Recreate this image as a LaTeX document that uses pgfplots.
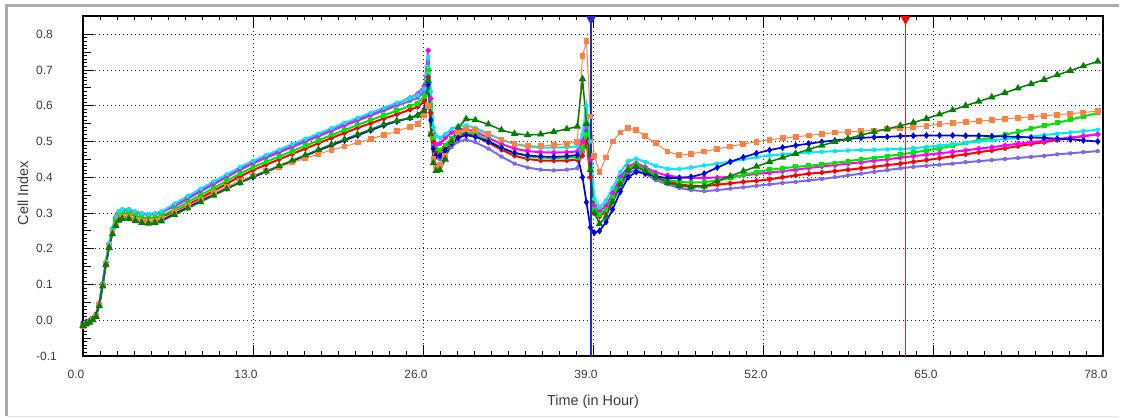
\documentclass[border=0pt]{standalone}
\usepackage{fontspec}
\setmainfont{Liberation Sans}
\usepackage{pgfplots}
\usepackage{pgfplotstable}
\pgfplotsset{compat=1.18}

\definecolor{cired}{RGB}{255,0,0}
\definecolor{cilime}{RGB}{0,228,0}
\definecolor{ciblue}{RGB}{0,0,225}
\definecolor{cimag}{RGB}{255,0,255}
\definecolor{cicyan}{RGB}{0,235,240}
\definecolor{ciorng}{RGB}{255,128,64}
\definecolor{cidgrn}{RGB}{0,128,0}
\definecolor{cipurp}{RGB}{123,104,238}
\definecolor{markblue}{RGB}{40,40,200}
\definecolor{markred}{RGB}{215,40,40}
\definecolor{labelgray}{RGB}{60,60,60}

% Cell index of eight wells, sampled over the run (hours)
\pgfplotstableread{
t     red    lime   blue   mag    cyan   orng   dgrn   purp
0     -0.010 -0.010 -0.008 -0.010 -0.010 -0.015 -0.015 -0.010
0.25  -0.006 -0.006 -0.005 -0.006 -0.006 -0.010 -0.010 -0.006
0.5   -0.002 -0.002 -0.002 -0.002 -0.002 -0.005 -0.006 -0.002
0.75  0.004  0.004  0.004  0.004  0.005  0.002  0.000  0.004
1.0   0.015  0.015  0.015  0.016  0.016  0.012  0.010  0.016
1.25  0.045  0.045  0.045  0.047  0.047  0.042  0.040  0.047
1.5   0.100  0.100  0.098  0.102  0.103  0.097  0.095  0.102
1.75  0.160  0.160  0.157  0.163  0.164  0.157  0.155  0.163
2.0   0.210  0.210  0.205  0.214  0.215  0.206  0.203  0.214
2.25  0.250  0.250  0.244  0.256  0.257  0.245  0.241  0.256
2.5   0.278  0.278  0.268  0.288  0.290  0.268  0.264  0.290
2.75  0.293  0.293  0.283  0.303  0.305  0.283  0.279  0.305
3.0   0.298  0.298  0.288  0.308  0.310  0.288  0.284  0.310
3.5   0.298  0.298  0.288  0.308  0.310  0.288  0.284  0.310
4.0   0.292  0.292  0.282  0.302  0.304  0.282  0.278  0.304
4.5   0.287  0.287  0.277  0.297  0.299  0.277  0.273  0.299
5.0   0.285  0.285  0.275  0.295  0.297  0.275  0.271  0.297
5.5   0.287  0.287  0.277  0.297  0.299  0.278  0.273  0.299
6.0   0.291  0.292  0.281  0.301  0.304  0.283  0.277  0.303
7     0.302  0.310  0.298  0.322  0.326  0.302  0.295  0.318
8     0.322  0.330  0.316  0.343  0.347  0.320  0.313  0.339
9     0.342  0.350  0.334  0.364  0.368  0.338  0.331  0.360
10    0.362  0.370  0.352  0.384  0.388  0.355  0.349  0.380
11    0.382  0.390  0.369  0.404  0.408  0.373  0.367  0.400
12    0.402  0.410  0.385  0.424  0.428  0.390  0.385  0.420
13    0.420  0.428  0.400  0.442  0.446  0.405  0.402  0.438
14    0.435  0.443  0.415  0.458  0.462  0.417  0.417  0.454
15    0.450  0.458  0.430  0.473  0.477  0.429  0.432  0.469
16    0.465  0.473  0.445  0.488  0.492  0.441  0.447  0.484
17    0.480  0.488  0.460  0.503  0.507  0.453  0.462  0.499
18    0.495  0.503  0.475  0.518  0.522  0.465  0.477  0.514
19    0.510  0.518  0.489  0.533  0.537  0.476  0.492  0.529
20    0.524  0.532  0.503  0.548  0.552  0.486  0.506  0.544
21    0.538  0.546  0.517  0.562  0.566  0.497  0.520  0.558
22    0.551  0.560  0.531  0.576  0.580  0.507  0.534  0.572
23    0.564  0.573  0.545  0.591  0.594  0.518  0.548  0.586
24    0.576  0.586  0.556  0.606  0.608  0.529  0.558  0.600
25    0.589  0.599  0.566  0.622  0.621  0.541  0.566  0.613
25.6  0.597  0.607  0.574  0.633  0.630  0.550  0.573  0.622
26.1  0.612  0.625  0.590  0.655  0.648  0.575  0.585  0.640
26.4  0.680  0.700  0.660  0.755  0.735  0.600  0.670  0.720
26.6  0.580  0.600  0.560  0.620  0.640  0.520  0.520  0.580
26.8  0.500  0.510  0.480  0.520  0.540  0.450  0.440  0.490
27.0  0.470  0.480  0.460  0.490  0.515  0.430  0.418  0.455
27.3  0.470  0.475  0.460  0.495  0.510  0.435  0.420  0.450
27.7  0.485  0.490  0.475  0.510  0.520  0.460  0.450  0.465
28.2  0.505  0.510  0.495  0.525  0.535  0.500  0.500  0.485
28.7  0.517  0.522  0.510  0.533  0.543  0.525  0.540  0.500
29.3  0.522  0.527  0.518  0.535  0.545  0.535  0.563  0.505
30    0.515  0.520  0.513  0.527  0.538  0.532  0.560  0.498
31    0.497  0.502  0.500  0.510  0.522  0.520  0.548  0.480
32    0.477  0.483  0.482  0.493  0.505  0.505  0.532  0.458
33    0.460  0.468  0.468  0.480  0.493  0.494  0.522  0.438
34    0.451  0.459  0.461  0.473  0.486  0.488  0.518  0.427
35    0.447  0.455  0.458  0.470  0.483  0.487  0.520  0.421
36    0.446  0.454  0.457  0.469  0.483  0.490  0.527  0.419
37    0.447  0.455  0.459  0.470  0.484  0.494  0.535  0.421
37.8  0.449  0.456  0.462  0.472  0.486  0.498  0.542  0.425
38.2  0.460  0.480  0.400  0.500  0.520  0.740  0.675  0.470
38.5  0.500  0.520  0.330  0.550  0.600  0.780  0.550  0.540
38.8  0.400  0.420  0.260  0.450  0.500  0.570  0.420  0.420
39.1  0.300  0.310  0.245  0.320  0.340  0.460  0.300  0.310
39.5  0.290  0.295  0.250  0.305  0.315  0.415  0.270  0.295
40.0  0.305  0.310  0.275  0.320  0.335  0.455  0.290  0.300
40.5  0.340  0.345  0.310  0.355  0.370  0.500  0.330  0.330
41.1  0.385  0.390  0.360  0.400  0.415  0.525  0.380  0.375
41.7  0.420  0.425  0.400  0.430  0.445  0.538  0.420  0.410
42.3  0.430  0.435  0.415  0.440  0.452  0.532  0.430  0.422
43.0  0.418  0.423  0.410  0.428  0.443  0.515  0.418  0.410
43.8  0.400  0.405  0.402  0.413  0.432  0.495  0.400  0.392
44.7  0.388  0.393  0.398  0.405  0.424  0.472  0.385  0.380
45.6  0.380  0.387  0.398  0.400  0.423  0.462  0.376  0.370
46.5  0.376  0.385  0.401  0.398  0.427  0.465  0.372  0.364
47.5  0.375  0.386  0.410  0.398  0.433  0.472  0.374  0.361
48.5  0.379  0.391  0.427  0.399  0.438  0.479  0.389  0.364
49.5  0.383  0.398  0.443  0.401  0.444  0.486  0.403  0.368
50.5  0.387  0.406  0.456  0.405  0.450  0.493  0.417  0.372
51.5  0.390  0.414  0.467  0.409  0.456  0.499  0.430  0.376
52.5  0.394  0.421  0.476  0.413  0.461  0.505  0.443  0.380
53.5  0.400  0.425  0.483  0.417  0.464  0.509  0.455  0.384
54.5  0.405  0.429  0.489  0.421  0.467  0.513  0.466  0.387
55.5  0.410  0.432  0.494  0.426  0.469  0.517  0.478  0.391
56.5  0.413  0.436  0.499  0.430  0.471  0.521  0.489  0.395
57.5  0.417  0.440  0.503  0.434  0.473  0.525  0.499  0.400
58.5  0.421  0.445  0.507  0.438  0.475  0.527  0.508  0.405
59.5  0.425  0.450  0.510  0.442  0.476  0.529  0.518  0.410
60.5  0.429  0.454  0.512  0.446  0.477  0.531  0.527  0.415
61.5  0.434  0.459  0.513  0.450  0.478  0.534  0.535  0.420
62.5  0.438  0.464  0.515  0.455  0.479  0.537  0.544  0.425
63.5  0.443  0.469  0.516  0.459  0.481  0.540  0.553  0.429
64.5  0.448  0.475  0.517  0.463  0.485  0.544  0.564  0.432
65.5  0.453  0.481  0.517  0.467  0.489  0.548  0.576  0.435
66.5  0.459  0.488  0.517  0.471  0.492  0.551  0.588  0.438
67.5  0.464  0.496  0.516  0.475  0.496  0.554  0.600  0.442
68.5  0.470  0.504  0.516  0.480  0.500  0.557  0.612  0.445
69.5  0.475  0.511  0.515  0.484  0.503  0.560  0.624  0.448
70.5  0.481  0.519  0.514  0.489  0.507  0.563  0.636  0.451
71.5  0.487  0.527  0.513  0.494  0.510  0.566  0.649  0.454
72.5  0.493  0.536  0.511  0.498  0.514  0.569  0.661  0.457
73.5  0.498  0.544  0.510  0.502  0.518  0.572  0.673  0.460
74.5  0.504  0.552  0.508  0.507  0.522  0.575  0.686  0.464
75.5  0.509  0.561  0.506  0.511  0.525  0.578  0.698  0.467
76.5  0.515  0.570  0.503  0.515  0.529  0.581  0.711  0.470
77.6  0.520  0.580  0.500  0.520  0.533  0.585  0.724  0.473
}\cellindex

\begin{document}
\begin{tikzpicture}
\useasboundingbox (0bp,0bp) rectangle (1125bp,418bp);
% window frame
\draw[color=gray!65, line width=3bp] (6.5bp,2bp) -- (6.5bp,412bp) -- (1119bp,412bp);
\draw[color=gray!20, line width=1.2bp] (6.5bp,1.5bp) -- (1119bp,1.5bp);

\begin{axis}[
  at={(83bp,62bp)}, anchor=south west,
  scale only axis, width=1020bp, height=340bp,
  xmin=0, xmax=78, ymin=-0.1, ymax=0.851,
  xtick={0,13,26,39,52,65,78},
  ytick={-0.1,0,0.1,0.2,0.3,0.4,0.5,0.6,0.7,0.8},
  minor x tick num=9, minor y tick num=9,
  extra y ticks={-0.05,0.05,0.15,0.25,0.35,0.45,0.55,0.65,0.75},
  extra y tick labels={},
  extra y tick style={grid=none, major tick length=8bp},
  xtick pos=both, ytick pos=left,
  tick align=inside,
  major tick length=11bp, minor tick length=4.5bp,
  every tick/.append style={black, line width=0.8bp},
  xmajorgrids, ymajorgrids,
  major grid style={black!85, line width=0.9bp, dash pattern=on 1.1bp off 2.9bp},
  axis line style={black, line width=1.1bp},
  /pgf/number format/assume math mode=true,
  /pgf/number format/.cd, fixed, fixed zerofill, precision=1, /pgfplots/.cd,
  tick label style={font=\fontsize{12}{14}\selectfont, text=labelgray},
  xticklabel style={anchor=north, inner sep=0pt, yshift=-14bp, xshift=-7bp},
  yticklabel style={anchor=west, inner sep=0pt, xshift=-47bp},
  xlabel={Time (in Hour)},
  ylabel={Cell Index},
  label style={font=\fontsize{14.5}{16}\selectfont, text=labelgray},
  xlabel style={at={(axis description cs:0.5,-0.135)}, anchor=center},
  ylabel style={at={(axis description cs:-0.0588,0.479)}, anchor=center},
  clip=false,
]
\addplot[color=cipurp, line width=2bp, mark=asterisk, mark size=2bp] table[x=t, y=purp]{\cellindex};
\addplot[color=cired, line width=2bp, mark=*, mark size=1.5bp] table[x=t, y=red]{\cellindex};
\addplot[color=cimag, line width=2bp, mark=*, mark size=1.6bp] table[x=t, y=mag]{\cellindex};
\addplot[color=cilime, line width=2bp, mark=square*, mark size=1.4bp] table[x=t, y=lime]{\cellindex};
\addplot[color=cicyan, line width=2bp, mark=asterisk, mark size=2.1bp] table[x=t, y=cyan]{\cellindex};
\addplot[color=ciblue, line width=1.7bp, mark=diamond*, mark size=2.1bp] table[x=t, y=blue]{\cellindex};
\addplot[color=ciorng, line width=1bp, mark=square*, mark size=2.4bp] table[x=t, y=orng]{\cellindex};
\addplot[color=cidgrn, line width=1.5bp, mark=triangle*, mark size=2.8bp] table[x=t, y=dgrn]{\cellindex};

% treatment markers
\addplot[draw=markblue, line width=1.6bp, mark=none] coordinates {(38.85,-0.1) (38.85,0.851)};
\addplot[draw=markred, line width=1.6bp, mark=none] coordinates {(62.9,-0.1) (62.9,0.851)};
\addplot[only marks, mark=triangle*, mark size=5.5bp, color=markblue, mark options={rotate=180}] coordinates {(38.85,0.843)};
\addplot[only marks, mark=triangle*, mark size=5.5bp, color=cired, mark options={rotate=180}] coordinates {(62.9,0.843)};
\end{axis}
\end{tikzpicture}
\end{document}
